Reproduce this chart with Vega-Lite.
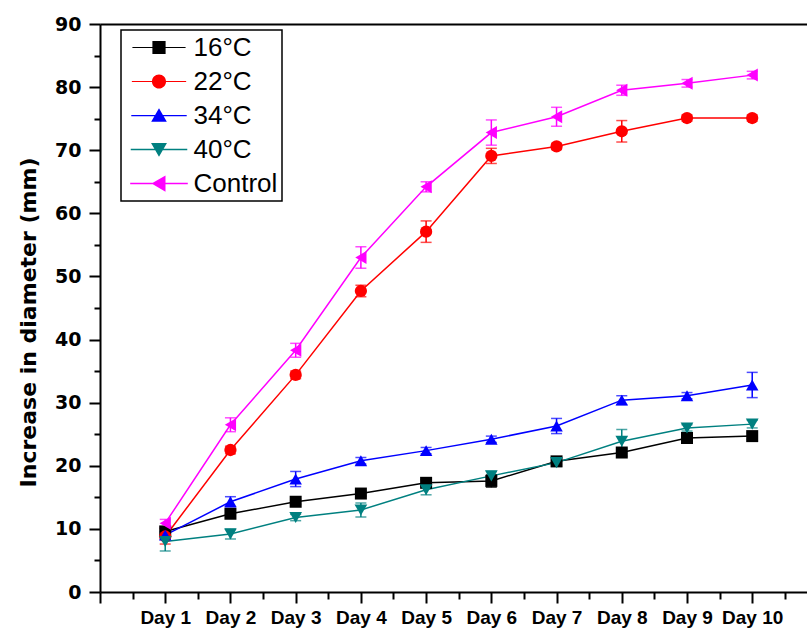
{
  "$schema": "https://vega.github.io/schema/vega-lite/v6.json",
  "width": 707,
  "height": 568,
  "autosize": {"type": "none"},
  "padding": {"left": 100, "top": 24, "right": 0, "bottom": 38},
  "background": "white",
  "config": {
    "view": {"stroke": null},
    "axis": {"grid": false, "domainColor": "black", "tickColor": "black", "labelColor": "black", "titleColor": "black"},
    "legend": {
      "orient": "none", "legendX": 21, "legendY": 6,
      "padding": 4.5, "rowPadding": 8, "symbolSize": 196, "symbolOffset": 20.5, "labelOffset": 21.5,
      "symbolStrokeWidth": 0, "symbolOpacity": 1,
      "labelFont": "Liberation Sans", "labelFontSize": 26, "labelColor": "black",
      "strokeColor": "black", "strokeWidth": 1.5, "fillColor": "white"
    }
  },
  "data": {
    "values": [
      {"day": 1, "series": "16°C", "value": 9.6, "lo": 9.1, "hi": 10.1},
      {"day": 2, "series": "16°C", "value": 12.4, "lo": 11.9, "hi": 12.9},
      {"day": 3, "series": "16°C", "value": 14.3, "lo": 13.9, "hi": 14.7},
      {"day": 4, "series": "16°C", "value": 15.6, "lo": 15.2, "hi": 16.0},
      {"day": 5, "series": "16°C", "value": 17.3, "lo": 16.8, "hi": 17.8},
      {"day": 6, "series": "16°C", "value": 17.6, "lo": 16.6, "hi": 18.6},
      {"day": 7, "series": "16°C", "value": 20.7, "lo": 20.2, "hi": 21.2},
      {"day": 8, "series": "16°C", "value": 22.1, "lo": 21.5, "hi": 22.7},
      {"day": 9, "series": "16°C", "value": 24.4, "lo": 24.0, "hi": 24.8},
      {"day": 10, "series": "16°C", "value": 24.7, "lo": 24.2, "hi": 25.2},
      {"day": 1, "series": "22°C", "value": 8.8, "lo": 7.6, "hi": 10.0},
      {"day": 2, "series": "22°C", "value": 22.5, "lo": 21.9, "hi": 23.1},
      {"day": 3, "series": "22°C", "value": 34.4, "lo": 33.8, "hi": 35.0},
      {"day": 4, "series": "22°C", "value": 47.7, "lo": 46.8, "hi": 48.6},
      {"day": 5, "series": "22°C", "value": 57.1, "lo": 55.4, "hi": 58.8},
      {"day": 6, "series": "22°C", "value": 69.1, "lo": 67.9, "hi": 70.3},
      {"day": 7, "series": "22°C", "value": 70.6, "lo": 70.1, "hi": 71.1},
      {"day": 8, "series": "22°C", "value": 73.0, "lo": 71.3, "hi": 74.7},
      {"day": 9, "series": "22°C", "value": 75.1, "lo": 74.6, "hi": 75.6},
      {"day": 10, "series": "22°C", "value": 75.1, "lo": 74.6, "hi": 75.6},
      {"day": 1, "series": "34°C", "value": 9.0, "lo": 8.4, "hi": 9.6},
      {"day": 2, "series": "34°C", "value": 14.3, "lo": 13.5, "hi": 15.1},
      {"day": 3, "series": "34°C", "value": 17.9, "lo": 16.7, "hi": 19.1},
      {"day": 4, "series": "34°C", "value": 20.8, "lo": 20.3, "hi": 21.3},
      {"day": 5, "series": "34°C", "value": 22.4, "lo": 21.9, "hi": 22.9},
      {"day": 6, "series": "34°C", "value": 24.2, "lo": 23.7, "hi": 24.7},
      {"day": 7, "series": "34°C", "value": 26.3, "lo": 25.1, "hi": 27.5},
      {"day": 8, "series": "34°C", "value": 30.4, "lo": 29.7, "hi": 31.1},
      {"day": 9, "series": "34°C", "value": 31.1, "lo": 30.6, "hi": 31.6},
      {"day": 10, "series": "34°C", "value": 32.8, "lo": 30.8, "hi": 34.8},
      {"day": 1, "series": "40°C", "value": 8.0, "lo": 6.5, "hi": 9.5},
      {"day": 2, "series": "40°C", "value": 9.2, "lo": 8.4, "hi": 10.0},
      {"day": 3, "series": "40°C", "value": 11.8, "lo": 11.3, "hi": 12.3},
      {"day": 4, "series": "40°C", "value": 13.0, "lo": 11.9, "hi": 14.1},
      {"day": 5, "series": "40°C", "value": 16.2, "lo": 15.4, "hi": 17.0},
      {"day": 6, "series": "40°C", "value": 18.4, "lo": 17.7, "hi": 19.1},
      {"day": 7, "series": "40°C", "value": 20.5, "lo": 19.9, "hi": 21.1},
      {"day": 8, "series": "40°C", "value": 23.9, "lo": 22.05, "hi": 25.75},
      {"day": 9, "series": "40°C", "value": 26.0, "lo": 25.5, "hi": 26.5},
      {"day": 10, "series": "40°C", "value": 26.6, "lo": 26.0, "hi": 27.2},
      {"day": 1, "series": "Control", "value": 10.9, "lo": 10.3, "hi": 11.5},
      {"day": 2, "series": "Control", "value": 26.5, "lo": 25.4, "hi": 27.6},
      {"day": 3, "series": "Control", "value": 38.3, "lo": 37.2, "hi": 39.4},
      {"day": 4, "series": "Control", "value": 53.0, "lo": 51.3, "hi": 54.7},
      {"day": 5, "series": "Control", "value": 64.2, "lo": 63.4, "hi": 65.0},
      {"day": 6, "series": "Control", "value": 72.8, "lo": 70.8, "hi": 74.8},
      {"day": 7, "series": "Control", "value": 75.3, "lo": 73.8, "hi": 76.8},
      {"day": 8, "series": "Control", "value": 79.5, "lo": 78.7, "hi": 80.3},
      {"day": 9, "series": "Control", "value": 80.6, "lo": 80.0, "hi": 81.2},
      {"day": 10, "series": "Control", "value": 81.9, "lo": 81.3, "hi": 82.5}
    ]
  },
  "resolve": {"axis": {"x": "independent", "y": "independent"}},
  "layer": [
    {
      "mark": {"type": "line", "strokeWidth": 1.5},
      "encoding": {
        "x": {
          "field": "day", "type": "quantitative",
          "scale": {"domain": [0, 10.84], "nice": false, "zero": false},
          "axis": {
            "orient": "bottom", "title": null,
            "values": [0, 1, 2, 3, 4, 5, 6, 7, 8, 9, 10],
            "labelExpr": "datum.value == 0 ? '' : 'Day ' + datum.value",
            "tickSize": 11, "tickWidth": 2, "domainWidth": 2,
            "labelFont": "Liberation Sans", "labelFontWeight": "bold", "labelFontSize": 19,
            "labelPadding": 5, "labelFlush": false, "labelOverlap": false, "labelBound": false
          }
        },
        "y": {
          "field": "value", "type": "quantitative",
          "scale": {"domain": [0, 90], "nice": false},
          "axis": {
            "orient": "left",
            "values": [0, 10, 20, 30, 40, 50, 60, 70, 80, 90],
            "tickSize": 11, "tickWidth": 2, "domainWidth": 2,
            "labelFont": "DejaVu Sans", "labelFontWeight": "bold", "labelFontSize": 19,
            "labelPadding": 8, "labelFlush": false, "labelOverlap": false,
            "title": "Increase in diameter (mm)",
            "titleFont": "DejaVu Sans", "titleFontWeight": "bold", "titleFontSize": 22,
            "titlePadding": 14, "titleY": 298
          }
        },
        "color": {
          "field": "series", "type": "nominal",
          "scale": {"domain": ["16°C", "22°C", "34°C", "40°C", "Control"], "range": ["#000000", "#FF0000", "#0000FF", "#008080", "#FF00FF"]},
          "legend": {"title": null}
        }
      }
    },
    {
      "mark": {"type": "rule", "strokeWidth": 1.5},
      "encoding": {
        "x": {"field": "day", "type": "quantitative", "axis": null},
        "y": {"field": "lo", "type": "quantitative", "axis": null},
        "y2": {"field": "hi"},
        "color": {"field": "series", "type": "nominal"}
      }
    },
    {
      "mark": {"type": "tick", "orient": "horizontal", "size": 11, "thickness": 1.5},
      "encoding": {
        "x": {"field": "day", "type": "quantitative", "axis": null},
        "y": {"field": "lo", "type": "quantitative", "axis": null},
        "color": {"field": "series", "type": "nominal"}
      }
    },
    {
      "mark": {"type": "tick", "orient": "horizontal", "size": 11, "thickness": 1.5},
      "encoding": {
        "x": {"field": "day", "type": "quantitative", "axis": null},
        "y": {"field": "hi", "type": "quantitative", "axis": null},
        "color": {"field": "series", "type": "nominal"}
      }
    },
    {
      "mark": {"type": "point", "filled": true, "opacity": 1},
      "encoding": {
        "x": {
          "field": "day", "type": "quantitative",
          "axis": {"orient": "top", "title": null, "labels": false, "ticks": false, "domainWidth": 2}
        },
        "y": {
          "field": "value", "type": "quantitative",
          "axis": {"orient": "left", "title": null, "labels": false, "domain": false, "values": [5, 15, 25, 35, 45, 55, 65, 75, 85], "tickSize": 6, "tickWidth": 2}
        },
        "size": {
          "field": "series", "type": "nominal",
          "scale": {"domain": ["16°C", "22°C", "34°C", "40°C", "Control"], "range": [144, 169, 225, 225, 225]},
          "legend": null
        },
        "color": {"field": "series", "type": "nominal"},
        "shape": {
          "condition": [
            {"test": "datum.series === '16°C'", "value": "square"},
            {"test": "datum.series === '22°C'", "value": "circle"},
            {"test": "datum.series === '34°C'", "value": "triangle-up"},
            {"test": "datum.series === '40°C'", "value": "triangle-down"}
          ],
          "value": "triangle-left"
        }
      }
    },
    {
      "mark": {"type": "point", "filled": true, "opacity": 0},
      "encoding": {
        "x": {
          "field": "day", "type": "quantitative",
          "axis": {"orient": "bottom", "title": null, "labels": false, "domain": false, "values": [0.5, 1.5, 2.5, 3.5, 4.5, 5.5, 6.5, 7.5, 8.5, 9.5, 10.5], "tickSize": 7, "tickWidth": 2}
        },
        "y": {"field": "value", "type": "quantitative", "axis": null},
        "color": {"field": "series", "type": "nominal"},
        "shape": {
          "field": "series", "type": "nominal",
          "scale": {
            "domain": ["16°C", "22°C", "34°C", "40°C", "Control"],
            "range": [
              "M-4.43,-0.1H4.43V0.1H-4.43Z M-1.1,-1.1H1.1V1.1H-1.1Z",
              "M-4.43,-0.1H4.43V0.1H-4.43Z M-1.15,0A1.15,1.15 0 1,1 1.15,0A1.15,1.15 0 1,1 -1.15,0Z",
              "M-4.43,-0.1H4.43V0.1H-4.43Z M0,-1.15L1.25,1L-1.25,1Z",
              "M-4.43,-0.1H4.43V0.1H-4.43Z M-1.25,-1L1.25,-1L0,1.15Z",
              "M-4.43,-0.1H4.43V0.1H-4.43Z M-1.15,0L1,-1.25L1,1.25Z"
            ]
          },
          "legend": {"title": null}
        }
      }
    }
  ]
}
